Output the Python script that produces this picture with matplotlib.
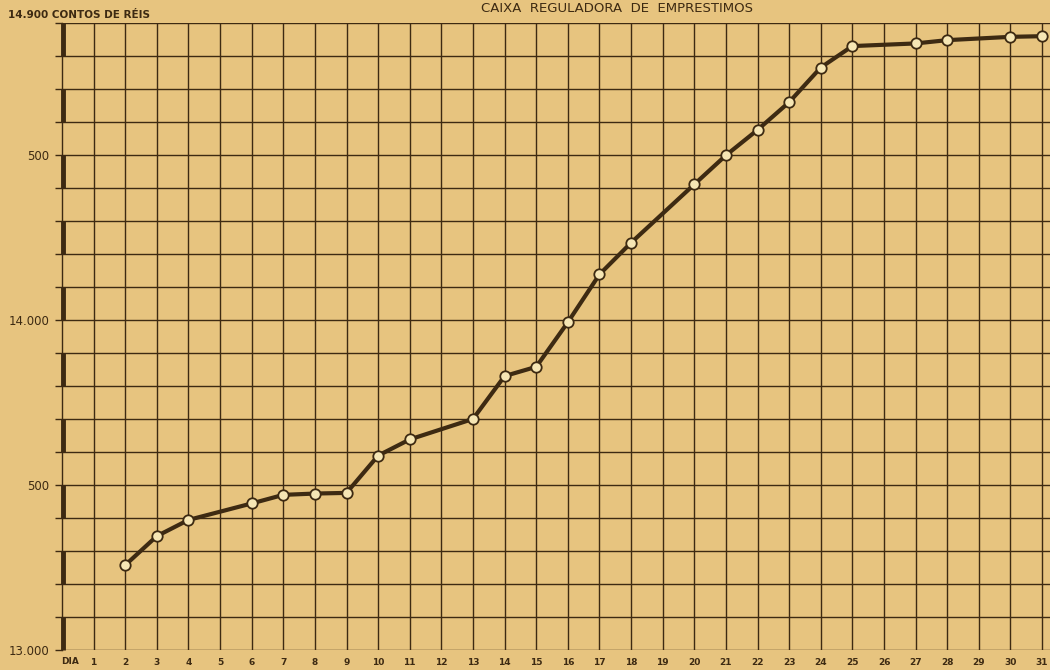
import matplotlib
matplotlib.use("Agg")
from matplotlib import pyplot as plt

# daily balance, contos de réis (no entry on sundays)
days = [2, 3, 4, 6, 7, 8, 9, 10, 11, 13, 14, 15, 16, 17, 18, 20, 21, 22, 23, 24, 25, 27, 28, 30, 31]
saldo = [13257, 13345, 13394, 13444, 13470, 13474, 13476, 13589, 13638, 13700, 13830, 13858,
         13993, 14138, 14234, 14411, 14499, 14576, 14660, 14765, 14830, 14838, 14848, 14858, 14860]

ytick_vals = [13000, 13500, 14000, 14500]
ytick_text = ["13.000", "500", "14.000", "500"]
day_labels = list(range(1, 32))

paper = "#e7c47f"
ink = "#3d2a12"

fig = plt.figure(figsize=(10.5, 6.7), dpi=100, facecolor=paper)
ax = fig.add_axes([0.059, 0.0299, 0.941, 0.9358])
ax.set_facecolor(paper)
ax.set_xlim(0, 31.25)
ax.set_ylim(13000, 14900)

# grid
for d in day_labels:
    ax.axvline(d, color=ink, lw=1.0, zorder=1)
for v in range(13000, 14901, 100):
    ax.axhline(v, color=ink, lw=1.0, zorder=1)

for s in ax.spines.values():
    s.set_visible(False)
ax.spines["left"].set_visible(True)
ax.spines["left"].set_color(ink)
ax.spines["left"].set_linewidth(1.0)

# ruler-style thick marks on the left axis
for lo in range(13000, 14900, 200):
    ax.plot([0.03, 0.03], [lo, lo + 100], color=ink, lw=3.5, solid_capstyle="butt",
            clip_on=False, zorder=3)

ax.set_yticks(range(13000, 14901, 100))
ax.set_yticklabels([ytick_text[ytick_vals.index(v)] if v in ytick_vals else ""
                    for v in range(13000, 14901, 100)])
ax.tick_params(axis="y", length=5, width=1.0, color=ink, labelcolor=ink, labelsize=8.5, pad=4)
ax.set_xticks(day_labels)
ax.set_xticklabels([str(d) for d in day_labels], fontsize=6.5, fontweight="bold", color=ink)
ax.tick_params(axis="x", length=0, pad=6)

ax.text(0.27, -0.012, "DIA", transform=ax.get_xaxis_transform(), ha="center", va="top",
        fontsize=6.5, fontweight="bold", color=ink)

ax.plot(days, saldo, color=ink, lw=3, marker="o", markersize=7.5,
        markerfacecolor="#f6e6b4", markeredgecolor=ink, markeredgewidth=1.3, zorder=4)

fig.text(8 / 1050, 1 - 15 / 670, "14.900 CONTOS DE RÉIS", ha="left", va="center",
         fontsize=7.5, fontweight="bold", color=ink)
fig.text(617 / 1050, 1 - 2 / 670, "CAIXA  REGULADORA  DE  EMPRESTIMOS", ha="center",
         va="top", fontsize=9.5, color=ink)

fig.savefig("out.png", dpi=100, facecolor=paper)
